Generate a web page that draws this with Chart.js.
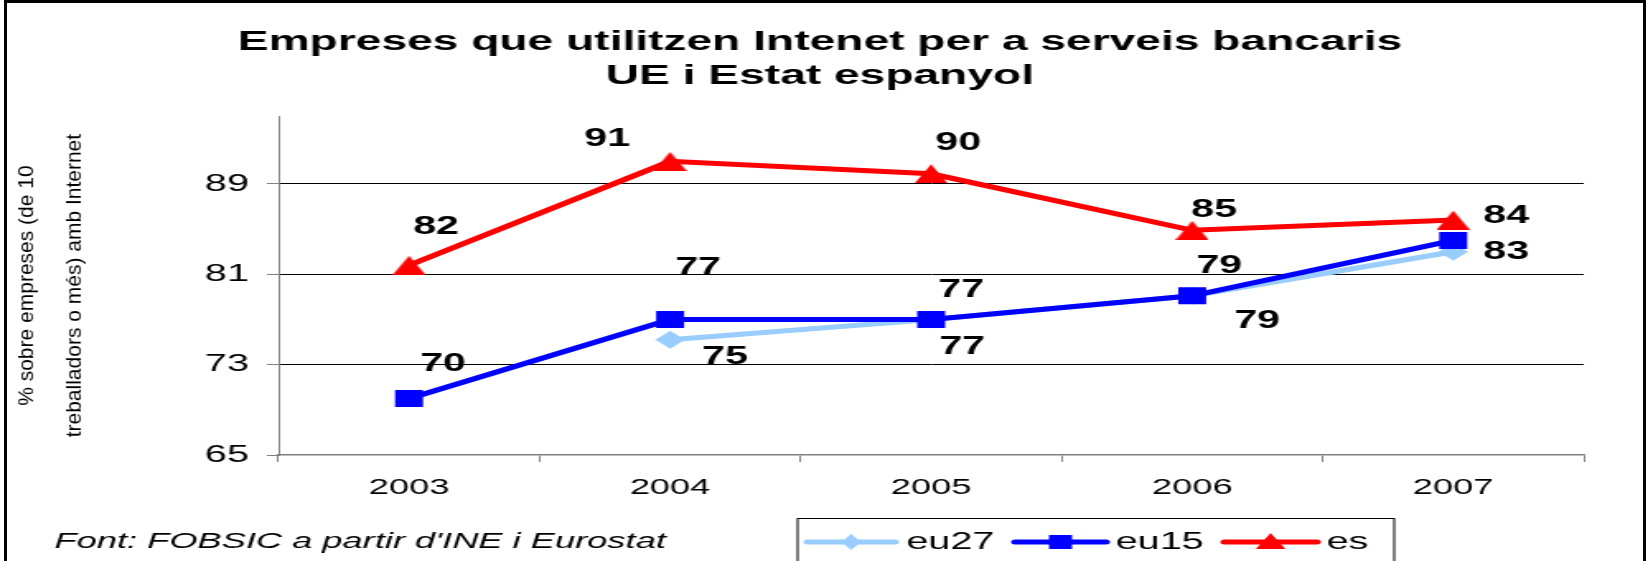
<!DOCTYPE html>
<html><head><meta charset="utf-8">
<script src="https://cdn.jsdelivr.net/npm/chart.js@4.4.0/dist/chart.umd.min.js"></script>
<style>
html,body{margin:0;padding:0;background:#fff;overflow:hidden;width:1648px;height:561px;}
#frame{position:absolute;left:4px;top:0;width:1642px;height:600px;border:3px solid #000;box-sizing:border-box;}
#wrap{position:absolute;left:0;top:0;width:1000px;height:561px;transform:scaleX(1.648);transform-origin:0 0;}
#c{display:block;width:1000px;height:561px;}
</style></head><body>
<div id="frame"></div>
<div id="wrap"><canvas id="c" width="1000" height="561"></canvas></div>
<script>
// ---- data ----
const categories = ['2003', '2004', '2005', '2006', '2007'];
const eu27 = [null, 75.2, 77, 79.1, 83];
const eu15 = [70, 77, 77, 79.1, 84];
const es = [81.8, 91, 89.9, 84.9, 85.8];
const yTicks = [65, 73, 81, 89];
const titleLines = ['Empreses que utilitzen Intenet per a serveis bancaris', 'UE i Estat espanyol'];
const yTitleLines = ['% sobre empreses (de 10', 'treballadors o més) amb Internet'];
const sourceNote = "Font: FOBSIC a partir d'INE i Eurostat";

// ---- layout (internal canvas units; canvas is stretched horizontally) ----
const FONT = '"Liberation Sans", Arial, Helvetica, sans-serif';
const labelOffsets = {
  eu27: [null, [33.4, 17], [18.8, 27.3], [39.4, 25.3], [32.2, 0.7]],
  eu15: [[20.6, -34.5], [17, -51], [18.2, -29.4], [16.4, -29.2], [32.2, -24.3]],
  es:   [[16.4, -38.5], [-38.2, -22.5], [16.4, -30.3], [13.3, -20.6], null]
};
const legendItems = [
  {x0: 490, x1: 543, tx: 550, marker: 'diamond'},
  {x0: 616, x1: 671, tx: 677, marker: 'square'},
  {x0: 743, x1: 799, tx: 805, marker: 'triangle'}
];
const titlePos = {x: 497.5, y: [42.5, 76.5]};

function makeTriangle(w, h, color) {
  const c = document.createElement('canvas');
  c.width = w; c.height = h;
  const g = c.getContext('2d');
  g.fillStyle = color;
  g.beginPath(); g.moveTo(w / 2, 0); g.lineTo(w, h); g.lineTo(0, h); g.closePath(); g.fill();
  return c;
}
const triImg = makeTriangle(20, 19, '#FF0000');

function drawMarker(ctx, type, x, y, color) {
  ctx.fillStyle = color;
  ctx.beginPath();
  if (type === 'diamond') {
    ctx.moveTo(x - 6, y); ctx.lineTo(x, y - 8); ctx.lineTo(x + 6, y); ctx.lineTo(x, y + 8);
  } else if (type === 'square') {
    ctx.rect(x - 7, y - 7, 14, 14);
  } else {
    ctx.moveTo(x, y - 9); ctx.lineTo(x + 9, y + 7); ctx.lineTo(x - 9, y + 7);
  }
  ctx.closePath();
  ctx.fill();
}

const annot = {
  id: 'annot',
  afterDatasetsDraw(chart) {
    const ctx = chart.ctx;
    ctx.save();
    ctx.font = 'bold 25px ' + FONT;
    ctx.fillStyle = '#000';
    ctx.textAlign = 'center';
    ctx.textBaseline = 'middle';
    chart.data.datasets.forEach((ds, di) => {
      const meta = chart.getDatasetMeta(di);
      const offs = labelOffsets[ds.label];
      meta.data.forEach((pt, i) => {
        const v = ds.data[i];
        if (v == null || !offs[i]) return;
        ctx.fillText(String(Math.round(v)), pt.x + offs[i][0], pt.y + offs[i][1]);
      });
    });
    ctx.restore();
  },
  afterDraw(chart) {
    const ctx = chart.ctx;
    // chart title
    ctx.save();
    ctx.fillStyle = '#000';
    ctx.font = 'bold 28px ' + FONT;
    ctx.textAlign = 'center';
    ctx.textBaseline = 'middle';
    titleLines.forEach((t, i) => ctx.fillText(t, titlePos.x, titlePos.y[i]));
    ctx.restore();

    // y-axis title
    ctx.save();
    ctx.fillStyle = '#000';
    ctx.font = '21px ' + FONT;
    ctx.textAlign = 'center';
    ctx.textBaseline = 'middle';
    const yc = (chart.chartArea.top + chart.chartArea.bottom) / 2;
    [17, 45.5].forEach((x, i) => {
      ctx.save();
      ctx.translate(x, yc);
      ctx.scale(0.6, 1);
      ctx.rotate(-Math.PI / 2);
      ctx.fillText(yTitleLines[i], 0, 0);
      ctx.restore();
    });
    ctx.restore();

    // source note
    ctx.save();
    ctx.fillStyle = '#000';
    ctx.font = 'italic 22px ' + FONT;
    ctx.textAlign = 'left';
    ctx.textBaseline = 'middle';
    ctx.fillText(sourceNote, 33, 542);
    ctx.restore();

    // legend
    ctx.save();
    ctx.strokeStyle = '#000';
    ctx.lineWidth = 1;
    ctx.strokeRect(484, 518.5, 362, 44);
    const ly = 542;
    chart.data.datasets.forEach((ds, i) => {
      const it = legendItems[i];
      ctx.strokeStyle = ds.borderColor;
      ctx.lineWidth = 5;
      ctx.lineCap = 'round';
      ctx.beginPath(); ctx.moveTo(it.x0, ly); ctx.lineTo(it.x1, ly); ctx.stroke();
      drawMarker(ctx, it.marker, (it.x0 + it.x1) / 2, ly, ds.borderColor);
      ctx.fillStyle = '#000';
      ctx.font = '24px ' + FONT;
      ctx.textAlign = 'left';
      ctx.textBaseline = 'middle';
      ctx.fillText(ds.label, it.tx, ly);
    });
    ctx.restore();
  }
};

new Chart(document.getElementById('c'), {
  type: 'line',
  data: {
    labels: categories,
    datasets: [
      {label: 'eu27', data: eu27, borderColor: '#99CCFF', backgroundColor: '#99CCFF',
       borderWidth: 5, pointStyle: 'rectRot', pointRadius: 9, pointBorderWidth: 0, order: 3},
      {label: 'eu15', data: eu15, borderColor: '#0000FF', backgroundColor: '#0000FF',
       borderWidth: 5, pointStyle: 'rect', pointRadius: 12, pointBorderWidth: 0, order: 2},
      {label: 'es', data: es, borderColor: '#FF0000', backgroundColor: '#FF0000',
       borderWidth: 5, pointStyle: triImg, pointRadius: 12, pointBorderWidth: 0, order: 1}
    ]
  },
  options: {
    responsive: false,
    animation: false,
    devicePixelRatio: 1,
    layout: {padding: {top: 116.2, left: 0, right: 39, bottom: 0}},
    plugins: {
      legend: {display: false},
      tooltip: {enabled: false},
      title: {display: false}
    },
    scales: {
      x: {
        type: 'category', offset: true,
        grid: {display: true, drawOnChartArea: false, drawTicks: true, tickLength: 7, offset: true,
               tickColor: '#808080', tickWidth: 1},
        border: {display: true, color: '#808080', width: 1.5},
        ticks: {color: '#000', font: {family: FONT, size: 22}, padding: 13, maxRotation: 0, autoSkip: false},
        afterFit: s => { s.height = 106; }
      },
      y: {
        type: 'linear', min: 65, max: 95,
        afterBuildTicks: s => { s.ticks = yTicks.map(v => ({value: v})); },
        grid: {color: c => (c.tick && c.tick.value === 65) ? 'rgba(0,0,0,0)' : '#000', lineWidth: 1,
               drawTicks: true, tickLength: 7, tickColor: '#808080'},
        border: {display: true, color: '#808080', width: 1},
        ticks: {color: '#000', font: {family: FONT, size: 24}, padding: 11},
        afterFit: s => { s.width = 169; }
      }
    }
  },
  plugins: [annot]
});
</script>
</body></html>
